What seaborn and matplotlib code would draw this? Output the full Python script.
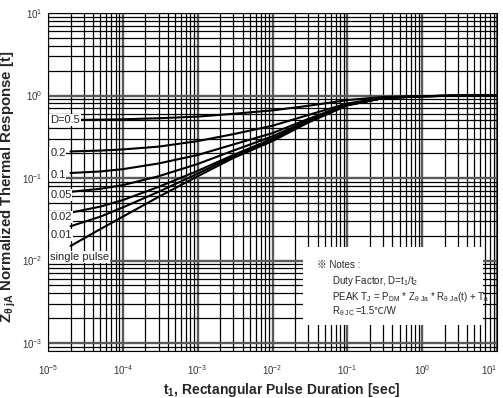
import numpy as np
import pandas as pd
import matplotlib
matplotlib.use("Agg")
import matplotlib.pyplot as plt
import matplotlib.ticker as mticker
from matplotlib.patches import Rectangle
import seaborn as sns

# ---- data ----
t_pulse = [2e-5, 5e-5, 1e-4, 3e-4, 1e-3, 3e-3, 1e-2, 3e-2, 1e-1, 3e-1, 1, 3, 10]
z_d05 = [0.505, 0.51, 0.515, 0.53, 0.555, 0.60, 0.66, 0.75, 0.88, 0.96, 0.985, 0.995, 1.0]
z_d02 = [0.21, 0.215, 0.222, 0.24, 0.28, 0.34, 0.43, 0.58, 0.80, 0.94, 0.98, 0.995, 1.0]
z_d01 = [0.115, 0.12, 0.128, 0.15, 0.19, 0.255, 0.35, 0.52, 0.78, 0.935, 0.98, 0.995, 1.0]
z_d005 = [0.068, 0.074, 0.082, 0.105, 0.148, 0.215, 0.32, 0.50, 0.77, 0.93, 0.98, 0.995, 1.0]
z_d002 = [0.038, 0.045, 0.054, 0.078, 0.122, 0.19, 0.30, 0.49, 0.77, 0.93, 0.98, 0.995, 1.0]
z_d001 = [0.026, 0.034, 0.044, 0.068, 0.113, 0.183, 0.29, 0.48, 0.76, 0.93, 0.98, 0.995, 1.0]
z_single = [0.015, 0.024, 0.034, 0.059, 0.105, 0.175, 0.28, 0.47, 0.76, 0.93, 0.98, 0.995, 1.0]

series_names = ["D=0.5", "0.2", "0.1", "0.05", "0.02", "0.01", "single pulse"]
series_values = [z_d05, z_d02, z_d01, z_d005, z_d002, z_d001, z_single]
label_y = [0.50, 0.20, 0.109, 0.062, 0.0337, 0.0204, 0.011]

x_ticks = [1e-5, 1e-4, 1e-3, 1e-2, 1e-1, 1, 10]
x_tick_labels = ["$10^{-5}$", "$10^{-4}$", "$10^{-3}$", "$10^{-2}$", "$10^{-1}$", "$10^{0}$", "$10^{1}$"]
y_ticks = [1e-3, 1e-2, 1e-1, 1, 10]
y_tick_labels = ["$10^{-3}$", "$10^{-2}$", "$10^{-1}$", "$10^{0}$", "$10^{1}$"]

notes_lines = [
    "※ Notes :",
    "Duty Factor, D=t$_1$/t$_2$",
    "PEAK T$_J$ = P$_{DM}$ * Z$_{\\theta\\ Ja}$ * R$_{\\theta\\ Ja}$(t) + T$_a$",
    "R$_{\\theta\\ JC}$",
]
notes_tail = "=1.5℃/W"

# ---- build table ----
rows = []
for name, vals in zip(series_names, series_values):
    for t, z in zip(t_pulse, vals):
        rows.append({"t": t, "z": z, "series": name})
df = pd.DataFrame(rows)

sns.set_style("white")
plt.rcParams["font.family"] = ["Liberation Sans", "Noto Sans CJK SC", "DejaVu Sans"]
plt.rcParams["mathtext.fontset"] = "custom"
plt.rcParams["mathtext.rm"] = "Liberation Sans"
plt.rcParams["mathtext.it"] = "Liberation Sans:italic"
plt.rcParams["mathtext.bf"] = "Liberation Sans:bold"
plt.rcParams["mathtext.default"] = "regular"

fig = plt.figure(figsize=(5.03, 3.98), dpi=100)
ax = fig.add_axes([48 / 503, (398 - 351) / 398, (497 - 48) / 503, (351 - 13) / 398])

sns.lineplot(data=df, x="t", y="z", hue="series", units="series", estimator=None,
             palette=["black"] * len(series_names), legend=False, lw=1.5, ax=ax, zorder=3)

ax.set_xscale("log")
ax.set_yscale("log")
ax.set_xlim(1e-5, 10)
ax.set_ylim(8e-4, 10)

ax.xaxis.set_major_locator(mticker.FixedLocator(x_ticks))
ax.yaxis.set_major_locator(mticker.FixedLocator(y_ticks))
ax.xaxis.set_minor_locator(mticker.LogLocator(base=10, subs=np.arange(2, 10), numticks=50))
ax.yaxis.set_minor_locator(mticker.LogLocator(base=10, subs=np.arange(2, 10), numticks=50))
ax.xaxis.set_minor_formatter(mticker.NullFormatter())
ax.yaxis.set_minor_formatter(mticker.NullFormatter())
ax.set_xticklabels(x_tick_labels)
ax.set_yticklabels(y_tick_labels)
ax.tick_params(which="both", length=0, labelsize=7, colors="#333333")
ax.tick_params(axis="x", pad=9)
ax.tick_params(axis="y", pad=4)
# keep the last x tick label inside the figure
ax.get_xticklabels()[-1].set_horizontalalignment("right")

ax.grid(True, which="major", color="#5a5a5a", lw=1.7, zorder=1)
ax.grid(True, which="minor", color="black", lw=0.9, zorder=1)
ax.set_axisbelow(True)
for s in ax.spines.values():
    s.set_color("black")
    s.set_linewidth(0.8)

ax.set_xlabel("t$_1$, Rectangular Pulse Duration [sec]", fontsize=10, fontweight="bold")
ax.xaxis.set_label_coords(0.521, -0.09)
ax.set_ylabel("Z$_{\\theta\\ jA}$ Normalized Thermal Response [t]", fontsize=10.8, fontweight="bold")
ax.yaxis.set_label_coords(-0.066, 0.485)

# curve labels with white boxes
for name, yv in zip(series_names, label_y):
    ax.text(1.07e-5, yv, name, fontsize=8, ha="left", va="center", zorder=5,
            bbox=dict(boxstyle="square,pad=0.08", fc="white", ec="none"))

# notes box
ax.add_patch(Rectangle((0.568, 0.077), 0.401, 0.231, transform=ax.transAxes,
                       facecolor="white", edgecolor="none", zorder=4))
note_pos = [(0.6, 0.245), (0.633, 0.198), (0.633, 0.151), (0.633, 0.108)]
note_texts = []
for txt, (xa, ya) in zip(notes_lines, note_pos):
    note_texts.append(ax.text(xa, ya, txt, transform=ax.transAxes, fontsize=7,
                              ha="left", va="baseline", zorder=5))

fig.canvas.draw()
bb = note_texts[-1].get_window_extent(renderer=fig.canvas.get_renderer())
x_end = ax.transAxes.inverted().transform((bb.x1, bb.y0))[0]
ax.text(x_end, note_pos[-1][1], notes_tail, transform=ax.transAxes, fontsize=7,
        ha="left", va="baseline", zorder=5)

fig.savefig("out.png", dpi=100)
